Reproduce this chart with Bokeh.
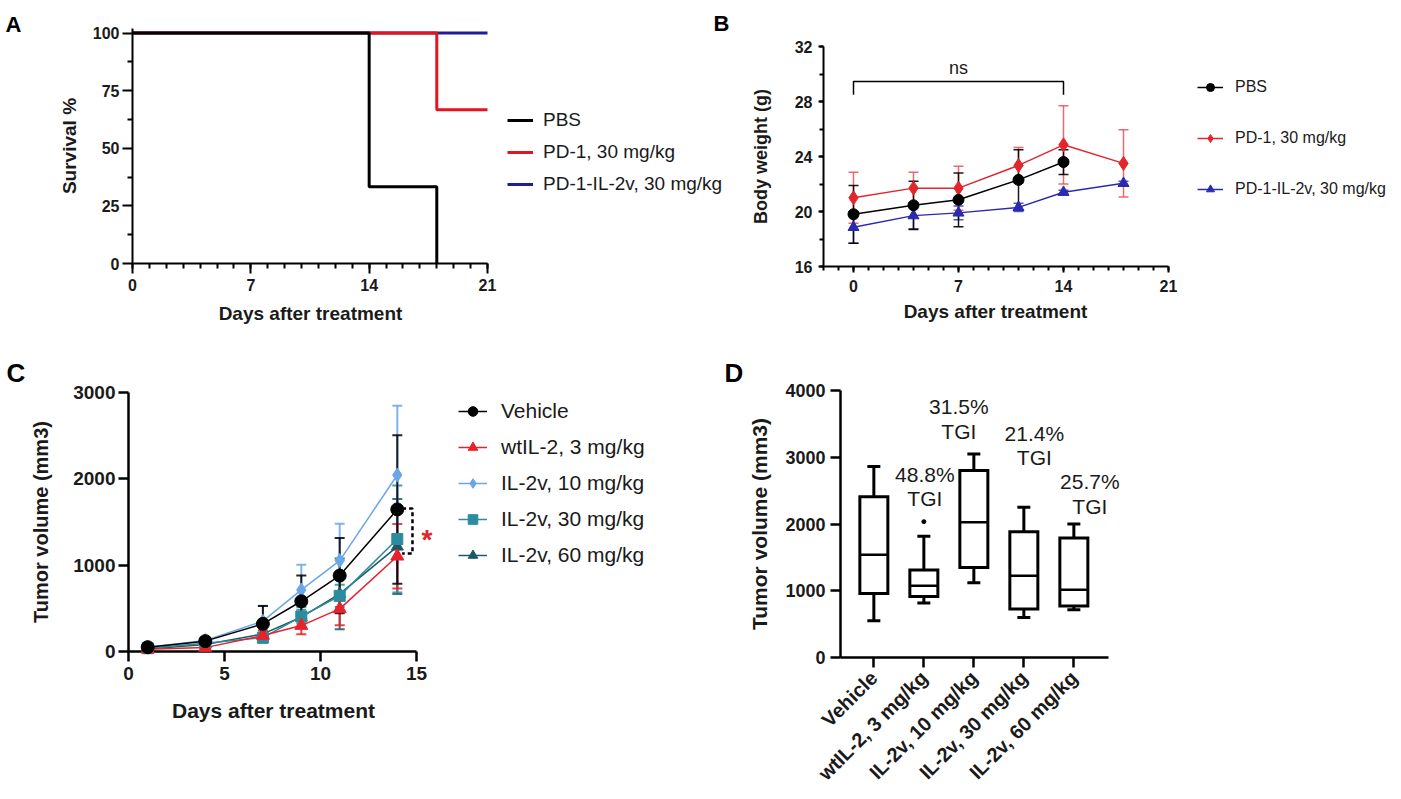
import math
import numpy as np
from bokeh.plotting import figure
from bokeh.models import (ColumnDataSource, FixedTicker, Range1d, Legend, LegendItem,
                          Whisker, TeeHead, Label)
from bokeh.layouts import column, row
from bokeh.embed import file_html
from bokeh.resources import INLINE
from bokeh.core.properties import value

FONT = "Liberation Sans"
TXT = "#1a1a1a"

# ---------------- Panel A: survival ----------------
surv_labels = ["PBS", "PD-1, 30 mg/kg", "PD-1-IL-2v, 30 mg/kg"]
surv_days_pbs = [0, 14, 18]
surv_pct_pbs = [100, 33.3, 0]
surv_days_pd1 = [0, 18, 21]
surv_pct_pd1 = [100, 66.7, 66.7]
surv_days_il2v = [0, 21]
surv_pct_il2v = [100, 100]
surv_xticks = [0, 7, 14, 21]
surv_yticks = [0, 25, 50, 75, 100]

# ---------------- Panel B: body weight ----------------
bw_labels = ["PBS", "PD-1, 30 mg/kg", "PD-1-IL-2v, 30 mg/kg"]
bw_days_pbs = [0, 4, 7, 11, 14]
bw_mean_pbs = [19.8, 20.45, 20.85, 22.3, 23.6]
bw_sd_pbs = [2.1, 1.75, 1.95, 2.2, 0.9]
bw_days_pd1 = [0, 4, 7, 11, 14, 18]
bw_mean_pd1 = [21.0, 21.7, 21.7, 23.35, 24.85, 23.5]
bw_sd_pd1 = [1.85, 1.15, 1.6, 1.3, 2.85, 2.45]
bw_days_il2v = [0, 4, 7, 11, 14, 18]
bw_mean_il2v = [18.85, 19.7, 19.9, 20.3, 21.4, 22.05]
bw_sd_il2v = [1.15, 0.95, 0.5, 0.3, 0.15, 0.15]
bw_xticks = [0, 7, 14, 21]
bw_yticks = [16, 20, 24, 28, 32]

# ---------------- Panel C: tumor growth ----------------
tv_labels = ["Vehicle", "wtIL-2, 3 mg/kg", "IL-2v, 10 mg/kg", "IL-2v, 30 mg/kg", "IL-2v, 60 mg/kg"]
tv_days = [1, 4, 7, 9, 11, 14]
tv_mean_vehicle = [50, 120, 320, 582, 879, 1646]
tv_err_vehicle = [20, 40, 208, 297, 436, 860]
tv_mean_wtil2 = [25, 45, 185, 300, 494, 1103]
tv_err_wtil2 = [10, 20, 60, 100, 190, 374]
tv_mean_il2v10 = [50, 127, 351, 713, 1053, 2044]
tv_err_il2v10 = [20, 40, 180, 293, 428, 802]
tv_mean_il2v30 = [38, 96, 160, 405, 644, 1303]
tv_err_il2v30 = [15, 30, 60, 80, 130, 620]
tv_mean_il2v60 = [30, 81, 204, 397, 667, 1215]
tv_err_il2v60 = [12, 30, 80, 120, 410, 550]
tv_xticks = [0, 5, 10, 15]
tv_yticks = [0, 1000, 2000, 3000]

# ---------------- Panel D: box plot ----------------
box_groups = ["Vehicle", "wtIL-2, 3 mg/kg", "IL-2v, 10 mg/kg", "IL-2v, 30 mg/kg", "IL-2v, 60 mg/kg"]
box_min = [550, 815, 1120, 600, 715]
box_q1 = [960, 915, 1350, 725, 770]
box_median = [1540, 1075, 2025, 1225, 1015]
box_q3 = [2410, 1310, 2800, 1885, 1790]
box_max = [2860, 1815, 3050, 2250, 2000]
outlier_group = [1]
outlier_value = [2035]
tgi_text = ["48.8%", "31.5%", "21.4%", "25.7%"]
box_yticks = [0, 1000, 2000, 3000, 4000]

# annotation placement (not data)
tgi_x = [1.02, 1.70, 3.21, 4.32]
tgi_y_pct = [2738, 3763, 3363, 2638]
tgi_y_word = [2388, 3388, 3000, 2268]


def make_fig(w, h, left, top, fw, fh, xr, yr, extend=False):
    """fw/fh: pixel size of the axis (data) area; if extend, the frame continues
    to the right edge so that a legend can sit inside it, and the x axis is bounded."""
    x0, x1 = xr
    fw_full = fw
    if extend:
        fw_full = w - left
        x1 = x0 + (xr[1] - xr[0]) * fw_full / fw
    p = figure(width=w, height=h, x_range=Range1d(x0, x1), y_range=Range1d(*yr),
               output_backend="svg", toolbar_location=None, title=None,
               min_border_left=left, min_border_top=top,
               min_border_right=w - left - fw_full, min_border_bottom=h - top - fh)
    try:
        p.frame_align = False   # keep each panel's own frame position
    except Exception:
        pass
    p.xgrid.visible = False
    p.ygrid.visible = False
    p.outline_line_color = None
    if extend:
        p.xaxis[0].bounds = (xr[0], xr[1])
    geom = (left, top, fw_full, fh, x0, x1, yr[0], yr[1])
    return p, geom


def px2data(g, sx, sy):
    left, top, fw, fh, x0, x1, y0, y1 = g
    return x0 + (sx - left) / fw * (x1 - x0), y1 - (sy - top) / fh * (y1 - y0)


def style_axis(ax, ticks, minor, tick_px, tick_out, minor_out, standoff,
               title, title_px, title_standoff, lw, bold_ticks=True):
    ax.ticker = FixedTicker(ticks=ticks, minor_ticks=minor)
    ax.axis_line_width = lw
    ax.axis_line_color = "black"
    ax.major_tick_line_width = lw
    ax.minor_tick_line_width = lw
    ax.major_tick_line_color = "black"
    ax.minor_tick_line_color = "black"
    ax.major_tick_in = 0
    ax.minor_tick_in = 0
    ax.major_tick_out = tick_out
    ax.minor_tick_out = minor_out
    ax.major_label_text_font = FONT
    ax.major_label_text_font_size = f"{tick_px}px"
    ax.major_label_text_font_style = "bold" if bold_ticks else "normal"
    ax.major_label_text_color = TXT
    ax.major_label_standoff = standoff
    ax.axis_label = title
    ax.axis_label_text_font = FONT
    ax.axis_label_text_font_size = f"{title_px}px"
    ax.axis_label_text_font_style = "bold"
    ax.axis_label_text_color = TXT
    ax.axis_label_standoff = title_standoff


def add_legend(p, items, loc, gw, gh, spacing, standoff, font_px):
    leg = Legend(items=items, location=loc, orientation="vertical", padding=0, margin=0,
                 spacing=spacing, glyph_width=gw, glyph_height=gh, label_height=gh,
                 label_standoff=standoff, label_text_font=FONT,
                 label_text_font_size=f"{font_px}px", label_text_color=TXT,
                 border_line_color=None, background_fill_alpha=0)
    p.add_layout(leg)


def add_text(p, g, text, sx, sy, size, bold=True, align="left", baseline="alphabetic",
             color="black"):
    x, y = px2data(g, sx, sy)
    p.text([x], [y], text=[text], text_font=value(FONT), text_font_size=f"{size}px",
           text_font_style="bold" if bold else "normal", text_color=color, text_align=align,
           text_baseline=baseline, level="overlay")


def add_err(p, x, mean, err, color, width, head, alpha=1.0):
    m = np.array(mean, float)
    e = np.array(err, float)
    src = ColumnDataSource(dict(x=x, upper=m + e, lower=m - e))
    w = Whisker(source=src, base="x", upper="upper", lower="lower",
                line_color=color, line_width=width, line_alpha=alpha,
                upper_head=TeeHead(size=head, line_color=color, line_width=width, line_alpha=alpha),
                lower_head=TeeHead(size=head, line_color=color, line_width=width, line_alpha=alpha),
                level="underlay")
    p.add_layout(w)


# ======================= Panel A =======================
pA, gA = make_fig(740, 346, 132, 28, 355, 235, (0, 21), (0, 102), extend=True)
style_axis(pA.xaxis[0], surv_xticks, list(range(0, 22)), 16, 10, 5, 5, None, 19, 6, 2)
style_axis(pA.yaxis[0], surv_yticks, [12.5, 37.5, 62.5, 87.5], 16, 10, 5, 3,
           "Survival %", 19, 10, 2)

A_colors = ["black", "#e3141c", "#1e1e9c"]
rA_il2v = pA.step(surv_days_il2v, surv_pct_il2v, mode="after", line_color=A_colors[2], line_width=3)
rA_pd1 = pA.step(surv_days_pd1, surv_pct_pd1, mode="after", line_color=A_colors[1], line_width=3)
rA_pbs = pA.step(surv_days_pbs, surv_pct_pbs, mode="after", line_color=A_colors[0], line_width=3)
leg_marks = [pA.scatter(x=[], y=[], marker="triangle", size=5, color=c) for c in A_colors]
add_legend(pA, [LegendItem(label=surv_labels[0], renderers=[rA_pbs, leg_marks[0]]),
                LegendItem(label=surv_labels[1], renderers=[rA_pd1, leg_marks[1]]),
                LegendItem(label=surv_labels[2], renderers=[rA_il2v, leg_marks[2]])],
           (375, 68), 26, 20, 10, 10, 19)
add_text(pA, gA, "A", 5, 24, 22)
add_text(pA, gA, "B", 713, 23, 22)
add_text(pA, gA, "Days after treatment", 310, 313, 19, align="center", baseline="middle",
         color=TXT)

# ======================= Panel B =======================
pB, gB = make_fig(661, 346, 83, 46, 345, 220, (-2, 21), (16, 32), extend=True)
style_axis(pB.xaxis[0], bw_xticks, list(range(-2, 22)), 16, 6, 4, 7, None, 19, 4, 2)
style_axis(pB.yaxis[0], bw_yticks, list(range(16, 33, 2)), 16, 5, 4, 6,
           "Body weight (g)", 18, 21, 2)

B_colors = ["black", "#e3262b", "#2a2ab0"]
add_err(pB, bw_days_il2v, bw_mean_il2v, bw_sd_il2v, B_colors[2], 1.5, 10, 0.8)
add_err(pB, bw_days_pd1, bw_mean_pd1, bw_sd_pd1, "#e85a5e", 1.5, 10, 0.9)
add_err(pB, bw_days_pbs, bw_mean_pbs, bw_sd_pbs, B_colors[0], 1.5, 10, 0.9)
lb3 = pB.line(bw_days_il2v, bw_mean_il2v, line_color=B_colors[2], line_width=1.5)
sb3 = pB.scatter(bw_days_il2v, bw_mean_il2v, marker="triangle", size=11, color=B_colors[2])
lb2 = pB.line(bw_days_pd1, bw_mean_pd1, line_color=B_colors[1], line_width=1.5)
sb2 = pB.scatter(bw_days_pd1, bw_mean_pd1, marker="diamond", size=14, color=B_colors[1])
lb1 = pB.line(bw_days_pbs, bw_mean_pbs, line_color=B_colors[0], line_width=1.5)
sb1 = pB.scatter(bw_days_pbs, bw_mean_pbs, marker="circle", size=11, color=B_colors[0])
# ns bracket between day 0 and day 14
pB.line([0, 0, 14, 14], [28.5, 29.45, 29.45, 28.5], line_color="black", line_width=1.5)
pB.add_layout(Label(x=7, y=30.45, text="ns", text_font=FONT, text_font_size="18px",
                    text_color=TXT, text_align="center", text_baseline="middle"))
add_legend(pB, [LegendItem(label=bw_labels[0], renderers=[lb1, sb1]),
                LegendItem(label=bw_labels[1], renderers=[lb2, sb2]),
                LegendItem(label=bw_labels[2], renderers=[lb3, sb3])],
           (374, 67), 26, 20, 31, 12, 16)
add_text(pB, gB, "Days after treatment", 995 - 740, 311, 19, align="center",
         baseline="middle", color=TXT)

# ======================= Panel C =======================
pC, gC = make_fig(700, 450, 128, 46, 288, 259, (0, 15), (0, 3000), extend=True)
style_axis(pC.xaxis[0], tv_xticks, [], 19, 10, 0, 5, None, 21, 11, 2.5)
style_axis(pC.yaxis[0], tv_yticks, [], 19, 10, 0, 3, "Tumor volume (mm3)", 20, 18, 2.5)

C_series = [
    (tv_mean_il2v60, tv_err_il2v60, "#1d5864", "triangle", 12),
    (tv_mean_il2v30, tv_err_il2v30, "#2b8c9e", "square", 11),
    (tv_mean_il2v10, tv_err_il2v10, "#6aa7e8", "diamond", 14),
    (tv_mean_wtil2, tv_err_wtil2, "#e8212b", "triangle", 13),
    (tv_mean_vehicle, tv_err_vehicle, "black", "circle", 13),
]
C_rends = []
for mean, err, col, mk, sz in C_series:
    add_err(pC, tv_days, mean, err, col, 2, 10, 0.85)
for mean, err, col, mk, sz in C_series:
    lr = pC.line(tv_days, mean, line_color=col, line_width=1.5)
    sr = pC.scatter(tv_days, mean, marker=mk, size=sz, color=col, level="overlay")
    C_rends.append((lr, sr))
C_rends = C_rends[::-1]  # legend order: Vehicle, wtIL-2, 10, 30, 60
add_legend(pC, [LegendItem(label=tv_labels[i], renderers=list(C_rends[i])) for i in range(5)],
           (330, 84), 29, 24, 12, 14, 21)
# significance bracket (Vehicle vs wtIL-2 at day 14)
pC.line([14.25, 14.79, 14.79, 14.25], [1655, 1655, 1135, 1135], line_color="black",
        line_width=2.5, line_dash="4 3")
pC.text([15.54], [1300], text=["*"], text_font=value(FONT), text_font_size="28px",
        text_font_style="bold", text_color="#e8212b", text_align="center",
        text_baseline="alphabetic", level="overlay")
add_text(pC, gC, "C", 6, 26, 26)
add_text(pC, gC, "Days after treatment", 273, 710 - 346, 21, align="center",
         baseline="middle", color=TXT)

# ======================= Panel D =======================
pD, gD = make_fig(700, 450, 140, 44, 268, 267, (-0.667, 4.693), (0, 4000))
style_axis(pD.xaxis[0], list(range(len(box_groups))), [], 20, 10, 0, 7, None, 20, 5, 2.5)
pD.xaxis[0].major_label_overrides = {i: g for i, g in enumerate(box_groups)}
pD.xaxis[0].major_label_orientation = math.pi / 4
style_axis(pD.yaxis[0], box_yticks, [], 18, 10, 0, 5, "Tumor volume (mm3)", 21, 11, 2.5)

bx = np.arange(len(box_groups), dtype=float)
hw, cw = 0.28, 0.13
pD.segment(bx, box_q3, bx, box_max, line_color="black", line_width=3)
pD.segment(bx, box_min, bx, box_q1, line_color="black", line_width=3)
pD.segment(bx - cw, box_max, bx + cw, box_max, line_color="black", line_width=3)
pD.segment(bx - cw, box_min, bx + cw, box_min, line_color="black", line_width=3)
pD.quad(left=bx - hw, right=bx + hw, bottom=box_q1, top=box_q3, fill_color="white",
        line_color="black", line_width=3, line_join="miter")
pD.segment(bx - hw, box_median, bx + hw, box_median, line_color="black", line_width=2.5)
pD.scatter(outlier_group, outlier_value, marker="circle", size=4, color="black")
pD.text(tgi_x, tgi_y_pct, text=tgi_text, text_font=value(FONT), text_font_size="21px",
        text_color=TXT, text_align="center", text_baseline="middle", level="overlay")
pD.text(tgi_x, tgi_y_word, text=["TGI"] * len(tgi_text), text_font=value(FONT),
        text_font_size="21px", text_color=TXT, text_align="center", text_baseline="middle",
        level="overlay")
add_text(pD, gD, "D", 24, 26, 26)

layout = column(row(pA, pB), row(pC, pD))
open("out.html", "w").write(file_html(layout, INLINE))
